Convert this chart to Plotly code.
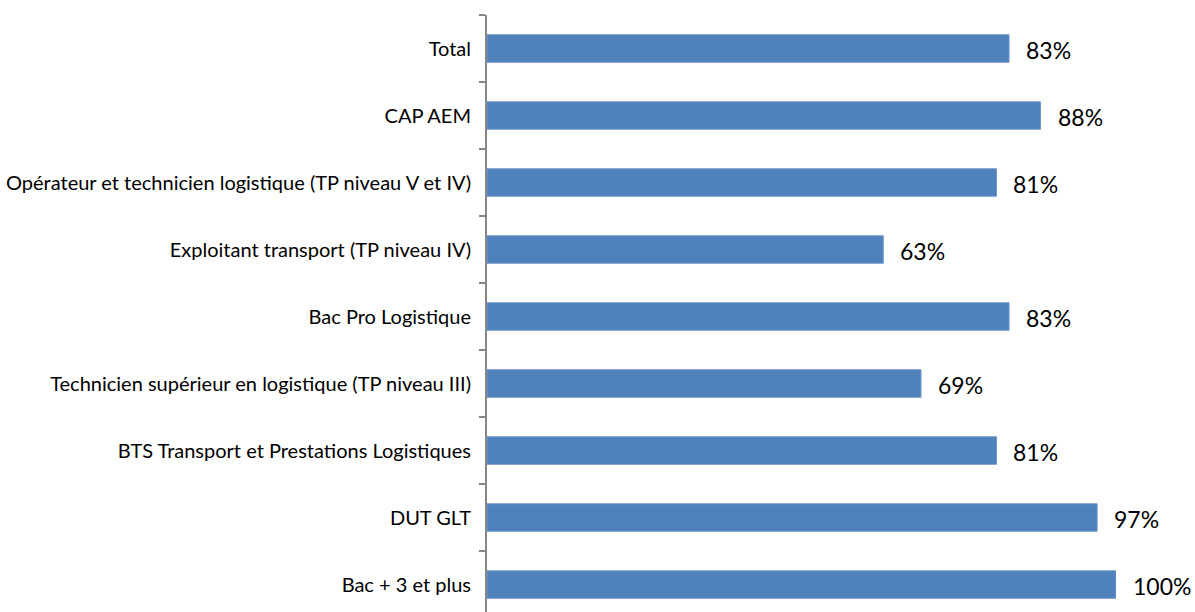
import plotly.graph_objects as go

categories = [
    "Total",
    "CAP AEM",
    "Opérateur et technicien logistique (TP niveau V et IV)",
    "Exploitant transport (TP niveau IV)",
    "Bac Pro Logistique",
    "Technicien supérieur en logistique (TP niveau III)",
    "BTS Transport et Prestations Logistiques",
    "DUT GLT",
    "Bac + 3 et plus",
]
values = [0.83, 0.88, 0.81, 0.63, 0.83, 0.69, 0.81, 0.97, 1.00]
labels = ["83%", "88%", "81%", "63%", "83%", "69%", "81%", "97%", "100%"]

fig = go.Figure()
fig.add_trace(go.Bar(
    x=values,
    y=categories,
    orientation="h",
    width=0.41,
    marker=dict(color="#4F81BD", line=dict(color="#6E97C8", width=1)),
    hoverinfo="skip",
))

# data labels to the right of each bar
for cat, v, lab in zip(categories, values, labels):
    fig.add_annotation(
        x=v, y=cat, text=lab, showarrow=False,
        xanchor="left", xshift=15, yshift=-1,
        font=dict(family="Lato, Noto Sans, sans-serif", size=23, color="#000000"),
    )

fig.update_layout(
    width=1195, height=612,
    margin=dict(l=487, r=79, t=15, b=0, autoexpand=False),
    paper_bgcolor="white", plot_bgcolor="white",
    showlegend=False,
    font=dict(family="Lato, Noto Sans, sans-serif", size=20, color="#000000"),
)
fig.update_xaxes(range=[0, 1.0], visible=False, fixedrange=True, automargin=False)
fig.update_yaxes(
    type="category",
    range=[8.41, -0.5],
    automargin=False,
    showline=True, linecolor="#868686", linewidth=2,
    ticks="outside", tickson="boundaries", ticklen=6, tickcolor="#868686", tickwidth=1.5,
    ticklabelstandoff=10,
    showgrid=False, zeroline=False, fixedrange=True,
)

# drop the default 8px body margin so the figure sits flush in the window
fig.write_html("out.html", config={"displayModeBar": False},
               post_script="document.body.style.margin='0';document.body.style.overflow='hidden';")
